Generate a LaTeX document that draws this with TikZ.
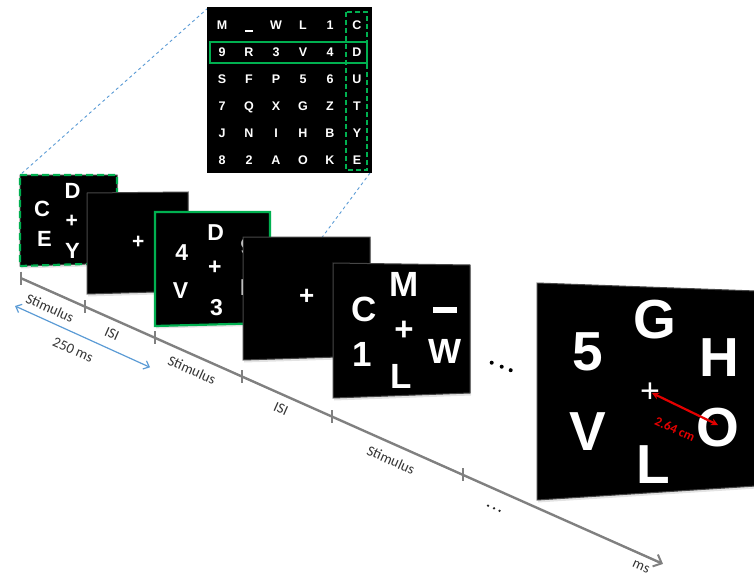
\documentclass[tikz,border=0pt]{standalone}
\usepackage{fontspec}
\setmainfont{Liberation Sans}
\newfontfamily\calib{Carlito}
\usetikzlibrary{arrows.meta,shadows}
\definecolor{pgreen}{RGB}{0,176,80}
\definecolor{pblue}{RGB}{91,155,213}
\definecolor{paxis}{RGB}{128,128,128}
\definecolor{pred}{RGB}{228,0,0}
\begin{document}
\begin{tikzpicture}[x=1pt,y=-1pt,
  panel/.style={fill=black, draw=black!72, line width=1pt,
    drop shadow={opacity=0.22, shadow xshift=1pt, shadow yshift=-2.5pt}},
  lt/.style={text=white, anchor=base, inner sep=0pt, font=\bfseries\fontsize{#1}{#1}\selectfont},
  pl/.style={text=white, anchor=center, inner sep=0pt, font=\bfseries\fontsize{#1}{#1}\selectfont},
  lbl/.style={font=\calib\fontsize{14.5}{14.5}\selectfont, text=black!80, rotate=-24, inner sep=0pt},
  tck/.style={draw=paxis, line width=2pt},
  bar/.style={fill=white, draw=none},
]
\useasboundingbox (0,0) rectangle (754,578);

% zoom lines
\coordinate (gTL) at (208,8);
\coordinate (gBR) at (370,173);
\coordinate (p1TL) at (20,175);
\coordinate (hid) at (262,318);
\draw[pblue, dashed, line width=0.9pt] (gTL) -- (p1TL);
\draw[pblue, dashed, line width=0.9pt] (gBR) -- (hid);

% speller grid
\path[fill=black] (207,7) rectangle (372,173);
\foreach \ltrs [count=\r] in {{M,{},W,L,1,C},{9,R,3,V,4,D},{S,F,P,5,6,U},{7,Q,X,G,Z,T},{J,N,I,H,B,Y},{8,2,A,O,K,E}} {
  \foreach \ch [count=\c] in \ltrs {
    \node[lt=12.5] (g\r\c) at ({222+27*(\c-1)}, {29.5+27*(\r-1)}) {\ch};
  }
}
\path[bar] (245,30.4) rectangle (253,32.4);
\draw[pgreen, line width=1.6pt] (210,42) rectangle (367,63);
\draw[pgreen, line width=1.6pt, dash pattern=on 5pt off 3pt] (346,12) rectangle (367,170);

% time axis
\coordinate (ax0) at (21,278.2);
\coordinate (ax1) at (663,563.9);
\draw[paxis, line width=2.4pt, -{Straight Barb[length=7pt,width=13pt,line width=2pt]}] (ax0) -- (ax1);
\foreach \tx in {21,85,155,242,332,463} {
  \pgfmathsetmacro\ty{278.2+(\tx-21)*0.445}
  \draw[tck] (\tx,\ty-6.5) -- (\tx,\ty+6.5);
}
\node[lbl] (l1) at (50,308) {Stimulus};
\node[lbl] (l2) at (112,334) {ISI};
\node[lbl] (l3) at (192,370) {Stimulus};
\node[lbl] (l4) at (281,409) {ISI};
\node[lbl] (l5) at (391,460) {Stimulus};
\node[lbl] (l6) at (641,567) {ms};
\foreach \dx/\dy in {488/505.7,494/508.3,499.5/510.8} \fill[black!85] (\dx,\dy) circle (1.3pt);

% 250 ms arrow
\coordinate (b0) at (15,306);
\coordinate (b1) at (150,367.3);
\draw[pblue, line width=1.2pt, {Straight Barb[length=5pt,width=9pt]}-{Straight Barb[length=5pt,width=9pt]}] (b0) -- (b1);
\node[lbl] (l250) at (73,350) {250 ms};

% panel 1
\path[panel] (20,175) -- (117,175) -- (117,263) -- (20,266) -- cycle;
\draw[pgreen, line width=2.2pt, dash pattern=on 7pt off 4pt] (20,175) -- (117,175) -- (117,263) -- (20,266) -- cycle;
\node[lt=22] (p1C) at (42,216.5) {C};
\node[lt=22] (p1E) at (44.5,246.5) {E};
\node[lt=22] (p1D) at (72.5,198.3) {D};
\node[pl=21] (p1P) at (71.7,221) {+};
\node[lt=22] (p1Y) at (72.5,258.3) {Y};

% panel 2
\path[panel] (87,193) -- (188,192) -- (188,291) -- (87,294) -- cycle;
\node[pl=21] (p2P) at (138.3,242.7) {+};

% panel 3
\path[panel] (155,212) -- (270,212) -- (270,323) -- (155,326) -- cycle;
\draw[pgreen, line width=2.2pt] (155,212) -- (270,212) -- (270,323) -- (155,326) -- cycle;
\node[lt=23] (p3a) at (181.7,260) {4};
\node[lt=23] (p3b) at (180.5,298) {V};
\node[lt=23] (p3c) at (215.8,240) {D};
\node[pl=23] (p3P) at (214.8,268) {+};
\node[lt=23] (p3d) at (216.5,315) {3};
\node[lt=23] (p3e) at (247,254) {9};
\node[lt=23] (p3f) at (248.5,295) {R};

% panel 4
\path[panel] (243,237) -- (370,237) -- (370,356) -- (243,360) -- cycle;
\node[pl=26] (p4P) at (306.7,296.7) {+};

% panel 5
\path[panel] (333,263) -- (470,265) -- (470,393) -- (333,398) -- cycle;
\node[lt=35] (p5C) at (364,321.7) {C};
\node[lt=35] (p5a) at (362,366.7) {1};
\node[lt=35] (p5M) at (404,296.7) {M};
\node[pl=33] (p5P) at (404,331) {+};
\node[lt=35] (p5L) at (401.5,388.3) {L};
\node[lt=35] (p5W) at (445,363.3) {W};
\path[bar] (433.3,307.3) rectangle (456.7,312.7);
\foreach \dx/\dy in {491.7/362.7,501.7/366.7,510.7/370.2} \fill[black] (\dx,\dy) circle (2pt);

% big panel
\path[panel] (537,283) -- (756,291) -- (756,486) -- (537,500) -- cycle;
\node[lt=55] (p6G) at (655,338) {G};
\node[lt=55] (p6a) at (588,370) {5};
\node[lt=55] (p6H) at (719.5,376.5) {H};
\node[lt=55] (p6V) at (588,450) {V};
\node[lt=55] (p6O) at (718,446) {O};
\node[lt=55] (p6L) at (653,483) {L};
\node[text=white, anchor=center, inner sep=0pt, font=\fontsize{34}{34}\selectfont] (p6P) at (650,392.5) {+};
\coordinate (r0) at (652,393);
\coordinate (r1) at (718,425);
\draw[pred, line width=2.2pt, {Stealth[length=7pt,width=7pt]}-{Stealth[length=7pt,width=7pt]}] (r0) -- (r1);
\node[font=\calib\bfseries\fontsize{13}{13}\selectfont, text=pred, rotate=-24, inner sep=0pt] (rl) at (675,429) {2.64 cm};
\end{tikzpicture}
\end{document}
